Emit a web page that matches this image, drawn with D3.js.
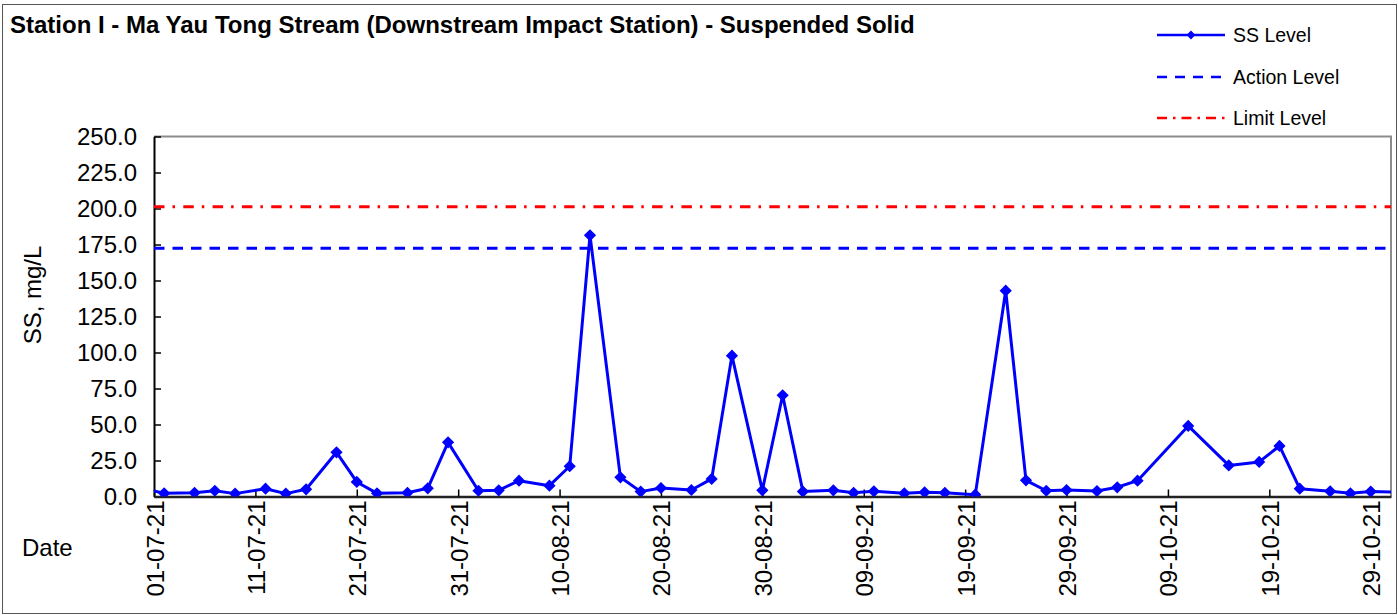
<!DOCTYPE html>
<html>
<head>
<meta charset="utf-8">
<script src="https://cdn.jsdelivr.net/npm/d3@7"></script>
<style>
  html, body { margin: 0; padding: 0; background: #fff; }
  svg { display: block; font-family: "Liberation Sans", Arial, sans-serif; }
</style>
</head>
<body>
<svg id="chart" width="1398" height="615"></svg>
<script>
// ---- data ----
const title = "Station I - Ma Yau Tong Stream (Downstream Impact Station) - Suspended Solid";
const sampleDates = ["30-06-21","02-07-21","05-07-21","07-07-21","09-07-21","12-07-21","14-07-21","16-07-21","19-07-21","21-07-21","23-07-21","26-07-21","28-07-21","30-07-21","02-08-21","04-08-21","06-08-21","09-08-21","11-08-21","13-08-21","16-08-21","18-08-21","20-08-21","23-08-21","25-08-21","27-08-21","30-08-21","01-09-21","03-09-21","06-09-21","08-09-21","10-09-21","13-09-21","15-09-21","17-09-21","20-09-21","23-09-21","25-09-21","27-09-21","29-09-21","02-10-21","04-10-21","06-10-21","11-10-21","15-10-21","18-10-21","20-10-21","22-10-21","25-10-21","27-10-21","29-10-21","01-11-21"];
const ssLevel = [5.4,2.2,2.6,4.0,2.0,5.4,2.0,5.0,30.7,10.1,2.2,2.6,5.7,37.6,4.0,4.3,11.0,7.5,21.0,181.4,13.3,3.4,5.9,4.5,12.2,97.8,4.3,70.3,3.4,4.3,2.6,3.6,2.2,2.9,2.6,1.3,142.9,11.2,4.0,4.5,3.8,6.4,11.0,49.0,21.6,24.0,35.1,5.4,3.6,2.2,3.4,3.0];
const actionLevel = 172.4;
const limitLevel = 201.3;
const xDomain = ["01-07-21","31-10-21"];
const xTickLabels = ["01-07-21","11-07-21","21-07-21","31-07-21","10-08-21","20-08-21","30-08-21","09-09-21","19-09-21","29-09-21","09-10-21","19-10-21","29-10-21"];
const yTickValues = [0,25,50,75,100,125,150,175,200,225,250];
const legendLabels = ["SS Level","Action Level","Limit Level"];
const yAxisTitle = "SS, mg/L";
const xAxisTitle = "Date";

// ---- layout ----
const parse = d3.utcParse("%d-%m-%y");
const plot = {left: 154, right: 1391, top: 136.5, bottom: 496.5};
const svg = d3.select("#chart");
const FF = "Liberation Sans, Arial, sans-serif";

const x = d3.scaleUtc().domain(xDomain.map(parse)).range([plot.left, plot.right]);
const y = d3.scaleLinear().domain([0, 250]).range([plot.bottom, plot.top]);

// outer frame
svg.append("rect").attr("x", 2.5).attr("y", 4.5).attr("width", 1394).attr("height", 609)
  .attr("fill", "none").attr("stroke", "#555").attr("stroke-width", 1);

// title
svg.append("text").attr("x", 10).attr("y", 33)
  .attr("font-size", 24).attr("font-weight", "bold").attr("fill", "#000").text(title);

// plot border (top/right grey)
svg.append("path")
  .attr("d", `M${plot.left},${plot.top}H${plot.right}V${plot.bottom}`)
  .attr("fill", "none").attr("stroke", "#8c8c8c").attr("stroke-width", 2);

// y axis
const yAxis = d3.axisLeft(y).tickValues(yTickValues).tickFormat(d3.format(".1f"))
  .tickSizeInner(-7).tickSizeOuter(0).tickPadding(17);
const gy = svg.append("g").attr("transform", `translate(${plot.left},0)`).call(yAxis);
gy.select(".domain").attr("stroke", "#000").attr("stroke-width", 2);
gy.selectAll(".tick line").attr("stroke", "#000").attr("stroke-width", 1.5);
gy.selectAll(".tick text").attr("font-size", 24).attr("fill", "#000").attr("font-family", FF);

// x axis
const xAxis = d3.axisBottom(x).tickValues(xTickLabels.map(parse))
  .tickFormat(d3.utcFormat("%d-%m-%y")).tickSizeInner(-7).tickSizeOuter(0);
const gx = svg.append("g").attr("transform", `translate(0,${plot.bottom})`).call(xAxis);
gx.select(".domain").attr("stroke", "#222").attr("stroke-width", 2.5);
gx.selectAll(".tick line").attr("stroke", "#000").attr("stroke-width", 1.5);
gx.selectAll(".tick text")
  .attr("font-size", 24).attr("fill", "#000").attr("font-family", FF)
  .attr("text-anchor", "end").attr("dy", null).attr("y", 0)
  .attr("transform", "translate(9,4) rotate(-90)");

// axis titles
svg.append("text").attr("transform", "translate(41,295) rotate(-90)")
  .attr("text-anchor", "middle").attr("font-size", 24).text(yAxisTitle);
svg.append("text").attr("x", 22).attr("y", 556).attr("font-size", 24).text(xAxisTitle);

// clip
svg.append("clipPath").attr("id", "clip").append("rect")
  .attr("x", plot.left).attr("y", plot.top - 10)
  .attr("width", plot.right - plot.left).attr("height", plot.bottom - plot.top + 10);

// reference lines
svg.append("line").attr("x1", plot.left).attr("x2", plot.right)
  .attr("y1", y(limitLevel)).attr("y2", y(limitLevel))
  .attr("stroke", "#ff0000").attr("stroke-width", 3).attr("stroke-dasharray", "10.5,8,2.5,8.3");
svg.append("line").attr("x1", plot.left).attr("x2", plot.right)
  .attr("y1", y(actionLevel)).attr("y2", y(actionLevel))
  .attr("stroke", "#0000ff").attr("stroke-width", 3).attr("stroke-dasharray", "10.5,8");

// series
const data = sampleDates.map((d, i) => ({date: parse(d), v: ssLevel[i]}));
const line = d3.line().x(d => x(d.date)).y(d => y(d.v));
const gs = svg.append("g").attr("clip-path", "url(#clip)");
gs.append("path").datum(data).attr("d", line)
  .attr("fill", "none").attr("stroke", "#0000ff").attr("stroke-width", 3).attr("stroke-linejoin", "round");
const diamond = d3.symbol().type(d3.symbolDiamond2).size(95);
gs.selectAll("path.m").data(data).join("path").attr("class", "m")
  .attr("transform", d => `translate(${x(d.date)},${y(d.v)})`)
  .attr("d", diamond).attr("fill", "#0000ff");

// legend
const lg = svg.append("g");
const legY = [35, 77, 118];
const lx1 = 1157, lx2 = 1225;
lg.append("line").attr("x1", lx1).attr("x2", lx2).attr("y1", legY[0]).attr("y2", legY[0])
  .attr("stroke", "#0000ff").attr("stroke-width", 2.5);
lg.append("path").attr("transform", `translate(${(lx1 + lx2) / 2},${legY[0]})`)
  .attr("d", d3.symbol().type(d3.symbolDiamond2).size(50)).attr("fill", "#0000ff");
lg.append("line").attr("x1", lx1).attr("x2", lx2).attr("y1", legY[1]).attr("y2", legY[1])
  .attr("stroke", "#0000ff").attr("stroke-width", 2.5).attr("stroke-dasharray", "10,8");
lg.append("line").attr("x1", lx1).attr("x2", lx2).attr("y1", legY[2]).attr("y2", legY[2])
  .attr("stroke", "#ff0000").attr("stroke-width", 2.5).attr("stroke-dasharray", "10,6,2.5,6");
legendLabels.forEach((t, i) => {
  lg.append("text").attr("x", 1233).attr("y", legY[i]).attr("dy", "0.35em")
    .attr("font-size", 19.5).attr("fill", "#000").text(t);
});
</script>
</body>
</html>
